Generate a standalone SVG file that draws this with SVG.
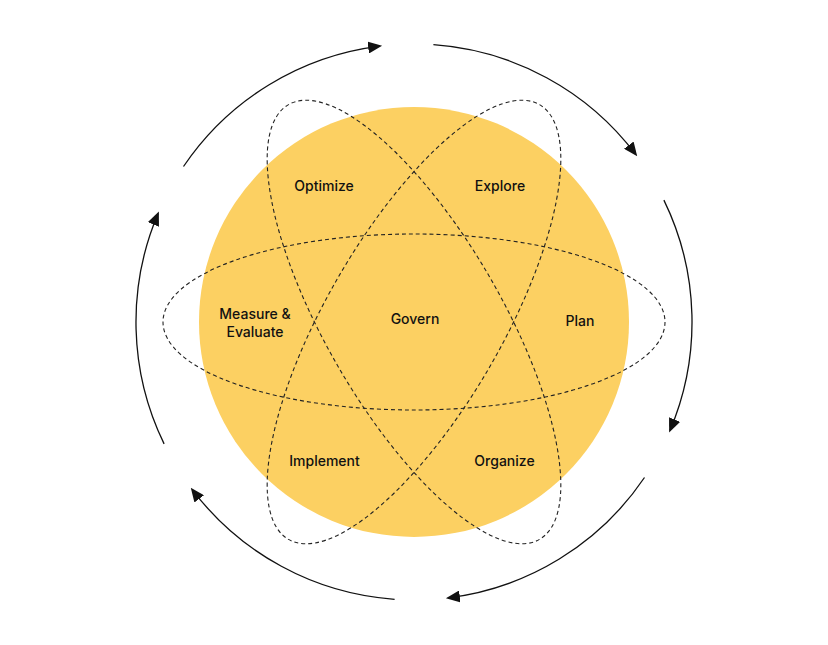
<svg xmlns="http://www.w3.org/2000/svg" width="828" height="645" viewBox="0 0 828 645">
  <style>
    .lbl { font-family: Inter, "Noto Sans", "Liberation Sans", sans-serif; font-size: 14px; font-weight: 500; fill: #111; text-anchor: middle; }
    .orbit { fill: none; stroke: #222; stroke-width: 1.1; stroke-dasharray: 4 3; }
    .arc { fill: none; stroke: #111; stroke-width: 1.3; marker-end: url(#ah); }
  </style>
  <defs>
    <marker id="ah" viewBox="0 0 14 12" refX="12" refY="6" markerWidth="14" markerHeight="12" markerUnits="userSpaceOnUse" orient="auto">
      <path d="M0,0 L14,6 L0,12 Z" fill="#111"/>
    </marker>
  </defs>
  <rect width="828" height="645" fill="#fff"/>
  <g id="sun">
    <circle cx="414" cy="322" r="215" fill="#FCD062"/>
  </g>
  <g id="orbits">
    <ellipse class="orbit" cx="414" cy="322" rx="251" ry="88"/>
    <ellipse class="orbit" cx="414" cy="322" rx="251" ry="88" transform="rotate(60 414 322)"/>
    <ellipse class="orbit" cx="414" cy="322" rx="251" ry="88" transform="rotate(-60 414 322)"/>
  </g>
  <g id="connectors">
    <path class="arc" d="M183.5,166.5 A278,278 0 0 1 380.1,46.1"/>
    <path class="arc" d="M433.4,44.7 A278,278 0 0 1 636,154.7"/>
    <path class="arc" d="M663.9,200.1 A278,278 0 0 1 669.9,430.6"/>
    <path class="arc" d="M644.5,477.5 A278,278 0 0 1 447.9,597.9"/>
    <path class="arc" d="M394.6,599.3 A278,278 0 0 1 192,489.3"/>
    <path class="arc" d="M164.1,443.9 A278,278 0 0 1 158.1,213.4"/>
  </g>
  <g id="node-optimize"><text class="lbl" x="324" y="191">Optimize</text></g>
  <g id="node-explore"><text class="lbl" x="500" y="191">Explore</text></g>
  <g id="node-measure"><text class="lbl" x="255" y="319">Measure &amp;</text><text class="lbl" x="255" y="337">Evaluate</text></g>
  <g id="node-govern"><text class="lbl" x="415" y="324">Govern</text></g>
  <g id="node-plan"><text class="lbl" x="580" y="326">Plan</text></g>
  <g id="node-implement"><text class="lbl" x="324.5" y="466">Implement</text></g>
  <g id="node-organize"><text class="lbl" x="504.5" y="466">Organize</text></g>
</svg>
